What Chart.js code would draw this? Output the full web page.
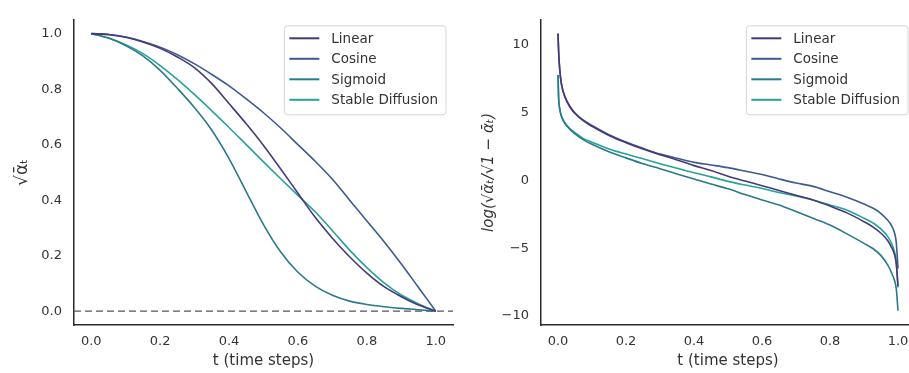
<!DOCTYPE html>
<html>
<head>
<meta charset="utf-8">
<script src="https://cdn.jsdelivr.net/npm/chart.js@4.4.1/dist/chart.umd.min.js"></script>
<style>
  html, body { margin: 0; padding: 0; background: #fff; overflow: hidden; }
  #wrap { position: relative; width: 909px; height: 373px; overflow: hidden; }
  #leftChart { position: absolute; left: 0; top: 0; }
  #rightChart { position: absolute; left: 460px; top: 0; }
</style>
</head>
<body>
<div id="wrap">
  <canvas id="leftChart" width="460" height="373"></canvas>
  <canvas id="rightChart" width="470" height="373"></canvas>
</div>
<script>
// series names and colours
const seriesNames = ['Linear', 'Cosine', 'Sigmoid', 'Stable Diffusion'];
const seriesColors = ['#46397a', '#3c5a90', '#2a7a8b', '#27a297'];

// left panel: sqrt(alpha_bar_t) against t
const tLeft = [0, 0.05, 0.1, 0.15, 0.2, 0.25, 0.3, 0.35, 0.4, 0.45, 0.5,
               0.55, 0.6, 0.65, 0.7, 0.75, 0.8, 0.85, 0.9, 0.95, 1.0];
const linearLeft  = [1.000, 0.997, 0.987, 0.970, 0.947, 0.916, 0.877, 0.820, 0.748, 0.675, 0.597,
                     0.512, 0.425, 0.338, 0.263, 0.196, 0.137, 0.088, 0.052, 0.022, 0.000];
const cosineLeft  = [1.000, 0.997, 0.988, 0.972, 0.951, 0.924, 0.891, 0.853, 0.812, 0.765, 0.715,
                     0.660, 0.600, 0.540, 0.475, 0.400, 0.325, 0.250, 0.170, 0.085, 0.000];
const sigmoidLeft = [1.000, 0.984, 0.957, 0.920, 0.868, 0.803, 0.733, 0.652, 0.550, 0.430, 0.312,
                     0.213, 0.140, 0.090, 0.057, 0.036, 0.024, 0.016, 0.010, 0.005, 0.000];
const sdLeft      = [1.000, 0.984, 0.960, 0.928, 0.885, 0.835, 0.780, 0.722, 0.662, 0.600, 0.538,
                     0.477, 0.417, 0.358, 0.290, 0.220, 0.157, 0.102, 0.058, 0.026, 0.000];
const zeroLineX = [-0.05, 1.05];
const zeroLineY = [0, 0];

// right panel: log(sqrt(a)/sqrt(1-a)) against t
const tRight = [0, 0.002, 0.005, 0.01, 0.02, 0.035, 0.05, 0.075, 0.1, 0.15, 0.2, 0.25, 0.3, 0.35,
                0.4, 0.45, 0.5, 0.55, 0.6, 0.65, 0.7, 0.75, 0.8, 0.85, 0.9, 0.93, 0.95, 0.97,
                0.98, 0.99, 0.995, 1.0];
const linearRight  = [10.8, 9.4, 8.2, 7.1, 6.15, 5.4, 4.92, 4.37, 3.97, 3.3, 2.77, 2.3, 1.88, 1.5,
                      1.08, 0.72, 0.3, -0.05, -0.4, -0.75, -1.1, -1.45, -1.9, -2.4, -3.05, -3.5,
                      -3.9, -4.45, -4.9, -5.5, -6.2, -7.8];
const cosineRight  = [10.8, 9.4, 8.2, 7.1, 6.2, 5.45, 4.95, 4.42, 4.03, 3.36, 2.82, 2.35, 1.93, 1.62,
                      1.32, 1.13, 0.93, 0.68, 0.42, 0.1, -0.2, -0.45, -0.85, -1.25, -1.75, -2.1,
                      -2.45, -2.95, -3.3, -3.9, -4.6, -6.5];
const sigmoidRight = [7.75, 6.0, 5.25, 4.7, 4.2, 3.75, 3.42, 2.98, 2.65, 2.1, 1.65, 1.22, 0.85, 0.47,
                      0.1, -0.28, -0.63, -1.05, -1.45, -1.82, -2.3, -2.8, -3.3, -3.95, -4.65, -5.1,
                      -5.55, -6.25, -6.75, -7.4, -8.0, -9.6];
const sdRight      = [7.75, 6.0, 5.3, 4.75, 4.25, 3.8, 3.5, 3.07, 2.8, 2.3, 1.93, 1.58, 1.22, 0.88,
                      0.55, 0.25, -0.08, -0.35, -0.6, -0.9, -1.15, -1.45, -1.82, -2.2, -2.8, -3.2,
                      -3.6, -4.15, -4.6, -5.3, -6.0, -7.9];

// tick labels
const xTicks = [0, 0.2, 0.4, 0.6, 0.8, 1.0];
const yTicksLeft = [0, 0.2, 0.4, 0.6, 0.8, 1.0];
const yTicksRight = [-10, -5, 0, 5, 10];

const FONT = '"DejaVu Sans", sans-serif';
const TEXT = '#333333';

function pts(xs, ys) {
  return xs.map((x, i) => ({ x: x, y: ys[i] }));
}

function curve(i, xs, ys) {
  return {
    label: seriesNames[i],
    data: pts(xs, ys),
    borderColor: seriesColors[i],
    borderWidth: 1.6,
    pointRadius: 0,
    cubicInterpolationMode: 'monotone',
    inLegend: true
  };
}

// legend drawn inside the plot, upper right, like matplotlib
const insideLegend = {
  id: 'insideLegend',
  afterDraw(chart) {
    const { ctx, chartArea } = chart;
    const items = chart.data.datasets.filter(d => d.inLegend);
    ctx.save();
    ctx.font = '13.5px ' + FONT;
    const maxW = Math.max(...items.map(d => ctx.measureText(d.label).width));
    const w = 5 + 30 + 12 + maxW + 8;
    const h = items.length * 20.5 + 7;
    const left = chartArea.right - 7 - w;
    const top = chartArea.top + 6;
    ctx.beginPath();
    ctx.roundRect(left, top, w, h, 3);
    ctx.fillStyle = 'rgba(255,255,255,0.85)';
    ctx.fill();
    ctx.strokeStyle = '#d5d5d5';
    ctx.lineWidth = 1;
    ctx.stroke();
    items.forEach((d, i) => {
      const y = top + 12.5 + i * 20.5;
      ctx.beginPath();
      ctx.moveTo(left + 5, y);
      ctx.lineTo(left + 35, y);
      ctx.strokeStyle = d.borderColor;
      ctx.lineWidth = 2;
      ctx.stroke();
      ctx.fillStyle = TEXT;
      ctx.textBaseline = 'middle';
      ctx.fillText(d.label, left + 47, y + 1);
    });
    ctx.restore();
  }
};

function xScale(min, max) {
  return {
    type: 'linear',
    min: min,
    max: max,
    grid: { display: false, drawTicks: false },
    border: { display: true, color: '#2b2b2b', width: 1.5 },
    afterBuildTicks: s => { s.ticks = xTicks.map(v => ({ value: v })); },
    afterFit: s => { s.height = 48; },
    ticks: {
      padding: 9,
      color: TEXT,
      font: { family: FONT, size: 13 },
      callback: v => v.toFixed(1)
    },
    title: {
      display: true,
      text: 't (time steps)',
      color: TEXT,
      font: { family: FONT, size: 15 },
      padding: { top: 0, bottom: 3 }
    }
  };
}

function yScale(min, max, ticks, width, fmt, title, titlePad, italic) {
  return {
    type: 'linear',
    min: min,
    max: max,
    grid: { display: false, drawTicks: false },
    border: { display: true, color: '#2b2b2b', width: 1.5 },
    afterBuildTicks: s => { s.ticks = ticks.map(v => ({ value: v })); },
    afterFit: s => { s.width = width; },
    ticks: {
      padding: 12,
      color: TEXT,
      font: { family: FONT, size: 13 },
      callback: fmt
    },
    title: {
      display: true,
      text: title,
      color: TEXT,
      font: { family: FONT, size: italic ? 15 : 17, style: italic ? 'italic' : 'normal' },
      padding: { top: titlePad, bottom: 0 }
    }
  };
}

const common = {
  responsive: false,
  animation: false,
  events: [],
  plugins: { legend: { display: false }, tooltip: { enabled: false } }
};

new Chart(document.getElementById('leftChart'), {
  type: 'line',
  data: {
    datasets: [
      curve(0, tLeft, linearLeft),
      curve(1, tLeft, cosineLeft),
      curve(2, tLeft, sigmoidLeft),
      curve(3, tLeft, sdLeft),
      {
        label: 'zero',
        data: pts(zeroLineX, zeroLineY),
        borderColor: '#555555',
        borderWidth: 1.3,
        borderDash: [7, 4],
        pointRadius: 0,
        inLegend: false
      }
    ]
  },
  options: Object.assign({}, common, {
    layout: { padding: { left: 0, right: 7, top: 12, bottom: 0 } },
    scales: {
      x: xScale(-0.05, 1.05),
      y: yScale(-0.05, 1.05, yTicksLeft, 74, v => v.toFixed(1), '√ᾱₜ', 12, false)
    }
  }),
  plugins: [insideLegend]
});

new Chart(document.getElementById('rightChart'), {
  type: 'line',
  data: {
    datasets: [
      curve(0, tRight, linearRight),
      curve(1, tRight, cosineRight),
      curve(2, tRight, sigmoidRight),
      curve(3, tRight, sdRight)
    ]
  },
  options: Object.assign({}, common, {
    layout: { padding: { left: 0, right: 15, top: 12, bottom: 0 } },
    scales: {
      x: xScale(-0.05, 1.05),
      y: yScale(-10.66, 11.82, yTicksRight, 81,
                v => (v < 0 ? '\u2212' + Math.abs(v) : String(v)),
                'log(√ᾱₜ/√1 − ᾱₜ)', 20, true)
    }
  }),
  plugins: [insideLegend]
});
</script>
</body>
</html>
